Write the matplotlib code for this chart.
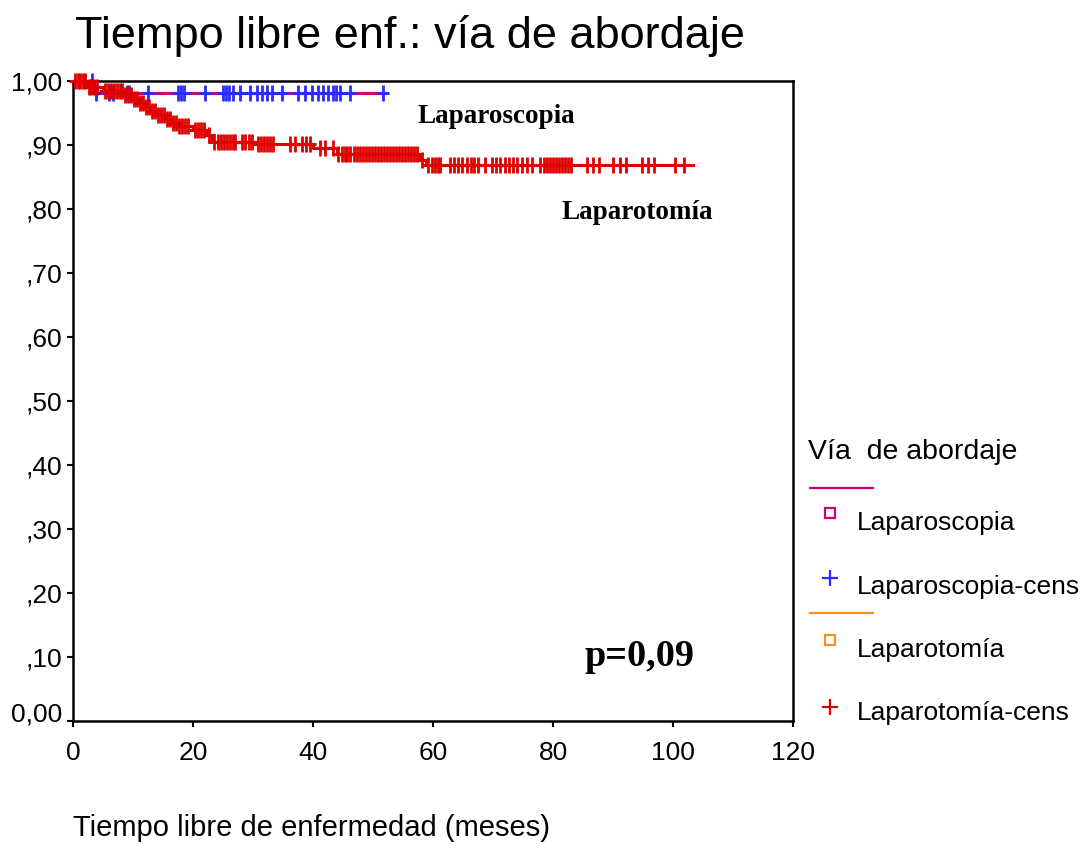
import numpy as np
import matplotlib.pyplot as plt
from matplotlib.lines import Line2D
import matplotlib.transforms as mtransforms

# Laparoscopia: KM step times / survival, censor times
lap_event_t = [3.5]
lap_event_s = [0.981]
lap_cens_t = [3.2, 3.8, 6.0, 6.7, 9.0, 9.3, 12.5, 17.5, 18.0, 18.5, 22.0,
              25.0, 25.5, 26.0, 26.7, 27.8, 29.5, 30.7, 31.5, 32.3, 33.2,
              34.8, 37.5, 38.7, 39.8, 40.8, 41.7, 42.5, 43.3, 43.8, 44.5,
              46.2, 51.7]
lap_end = 51.7

# Laparotomia
lpt_event_t = [2.3, 5.0, 8.5, 9.8, 11.0, 12.0, 12.8, 14.0, 15.3, 16.5, 17.5,
               20.0, 22.2, 23.2, 30.2, 40.0, 44.0, 57.8, 58.8]
lpt_event_s = [0.991, 0.984, 0.978, 0.972, 0.966, 0.960, 0.953, 0.947, 0.941,
               0.935, 0.929, 0.924, 0.916, 0.905, 0.901, 0.895, 0.886, 0.877,
               0.868]
lpt_cens_t = [0.3, 0.8, 1.2, 1.7, 2.0, 2.6, 3.0, 3.5, 4.0,
              5.3, 5.8, 6.3, 6.8, 7.3, 7.8, 8.2,
              8.7, 9.2, 9.7, 10.2, 10.7, 11.2, 11.7, 12.2, 12.7, 13.2, 13.7,
              14.2, 14.7, 15.2, 15.7, 16.2, 16.7, 17.2, 17.7, 18.2, 18.7, 19.2,
              20.3, 20.8, 21.3, 21.8, 22.6, 23.5,
              24.2, 24.7, 25.2, 25.7, 26.2, 26.7, 27.0,
              28.2, 28.7, 29.3, 29.8, 30.8, 31.3, 31.8, 32.3, 32.8, 33.3,
              36.2, 37.0, 38.2, 38.8, 39.5, 41.2, 42.0, 43.3,
              44.2, 44.8, 45.3, 45.7, 46.2, 46.8, 47.3, 47.8, 48.3, 48.8,
              49.3, 49.8, 50.3, 50.8, 51.3, 51.8, 52.3, 52.8, 53.3, 53.8,
              54.3, 54.8, 55.3, 55.8, 56.3, 56.8, 57.3,
              58.2, 59.2, 59.8, 60.3, 60.8, 61.2, 62.8, 63.5, 64.2, 64.8,
              65.7, 66.3, 66.8, 67.5, 68.7, 69.8, 70.5, 71.2,
              72.0, 72.7, 73.3, 74.0, 74.8, 75.7, 76.5, 77.8, 78.5, 79.0,
              79.5, 80.0, 80.5, 81.0, 81.5, 82.0, 82.5, 83.0,
              85.7, 86.7, 87.7, 90.0, 91.2, 92.2, 94.8, 95.8, 96.8,
              100.3, 101.8]
lpt_end = 103.3

x_ticks = [0, 20, 40, 60, 80, 100, 120]
y_ticks = [0.0, 0.1, 0.2, 0.3, 0.4, 0.5, 0.6, 0.7, 0.8, 0.9, 1.0]
y_labels = ['0,00', ',10', ',20', ',30', ',40', ',50', ',60', ',70', ',80',
            ',90', '1,00']

MAGENTA = '#d1006b'
ORANGE = '#ff8c1e'
BLUE = '#2b2bff'
RED = '#e00000'

plt.rcParams['font.family'] = ['Liberation Sans', 'DejaVu Sans']

W, H = 1086, 844
fig = plt.figure(figsize=(W / 100, H / 100), dpi=100)
ax = fig.add_axes([73 / W, 1 - 721 / H, 720 / W, 640 / H])


def km(event_t, event_s, end):
    t = np.concatenate([[0.0], event_t, [end]])
    s = np.concatenate([[1.0], event_s, [event_s[-1]]])
    return t, s


def surv_at(times, event_t, event_s):
    idx = np.searchsorted(event_t, times, side='right')
    s = np.concatenate([[1.0], event_s])
    return s[idx]


# the orange Laparotomia line is practically hidden under red in the original
for ev_t, ev_s, cens, end, lc, mc in [
        (lap_event_t, lap_event_s, lap_cens_t, lap_end, MAGENTA, BLUE),
        (lpt_event_t, lpt_event_s, lpt_cens_t, lpt_end, RED, RED)]:
    t, s = km(ev_t, ev_s, end)
    ax.step(t, s, where='post', color=lc, lw=2.2, clip_on=False, zorder=3)
    cy = surv_at(np.array(cens), np.array(ev_t), np.array(ev_s))
    ax.plot(cens, cy, ls='none', marker='|', ms=11.5, mew=2.0, color=mc,
            clip_on=False, zorder=4)
    ax.plot(cens, cy, ls='none', marker='_', ms=9, mew=2.2, color=mc,
            clip_on=False, zorder=4)

ax.set_xlim(0, 120)
ax.set_ylim(0, 1.0)
ax.set_xticks(x_ticks)
ax.set_yticks(y_ticks)
ax.set_yticklabels(y_labels)
ax.tick_params(direction='out', length=4.5, width=1.5, labelsize=19)
ax.tick_params(axis='x', pad=10)
ax.tick_params(axis='y', pad=3)
for sp in ax.spines.values():
    sp.set_linewidth(1.8)
# bottom label sits a little higher in the original
lab0 = ax.get_yticklabels()[0]
lab0.set_transform(lab0.get_transform() +
                   mtransforms.ScaledTranslation(0, 0.09, fig.dpi_scale_trans))

ax.text(57.5, 0.944, 'Laparoscopia', family='Liberation Serif',
        fontweight='bold', fontsize=19.5, va='center', ha='left')
ax.text(81.5, 0.794, 'Laparotomía', family='Liberation Serif',
        fontweight='bold', fontsize=19.5, va='center', ha='left')
ax.text(85.3, 0.101, 'p=0,09', family='Liberation Serif',
        fontweight='bold', fontsize=27.5, va='center', ha='left')

fig.text(75 / W, 1 - 36 / H, 'Tiempo libre enf.: vía de abordaje',
         fontsize=32.5, ha='left', va='center')
fig.text(73 / W, 1 - 828 / H, 'Tiempo libre de enfermedad (meses)',
         fontsize=21, ha='left', va='center')


def fx(px):
    return px / W


def fy(py):
    return 1 - py / H


# legend drawn by hand
fig.text(fx(808), fy(452), 'Vía  de abordaje', fontsize=20.5, ha='left',
         va='center')
fig.add_artist(Line2D([fx(810), fx(873)], [fy(488), fy(488)], color=MAGENTA,
                      lw=1.6))
fig.add_artist(Line2D([fx(830)], [fy(513)], marker='s', ms=7, mfc='none',
                      mec=MAGENTA, mew=1.6, ls='none'))
fig.text(fx(857), fy(523), 'Laparoscopia', fontsize=19, ha='left',
         va='center')
fig.add_artist(Line2D([fx(830)], [fy(578)], marker='+', ms=12, mew=1.6,
                      color=BLUE, ls='none'))
fig.text(fx(857), fy(587), 'Laparoscopia-cens', fontsize=19, ha='left',
         va='center')
fig.add_artist(Line2D([fx(810), fx(873)], [fy(613), fy(613)], color=ORANGE,
                      lw=1.6))
fig.add_artist(Line2D([fx(830)], [fy(640)], marker='s', ms=7, mfc='none',
                      mec=ORANGE, mew=1.6, ls='none'))
fig.text(fx(857), fy(650), 'Laparotomía', fontsize=19, ha='left',
         va='center')
fig.add_artist(Line2D([fx(830)], [fy(707)], marker='+', ms=12, mew=1.6,
                      color=RED, ls='none'))
fig.text(fx(857), fy(713), 'Laparotomía-cens', fontsize=19, ha='left',
         va='center')

fig.savefig('out.png', dpi=100)
